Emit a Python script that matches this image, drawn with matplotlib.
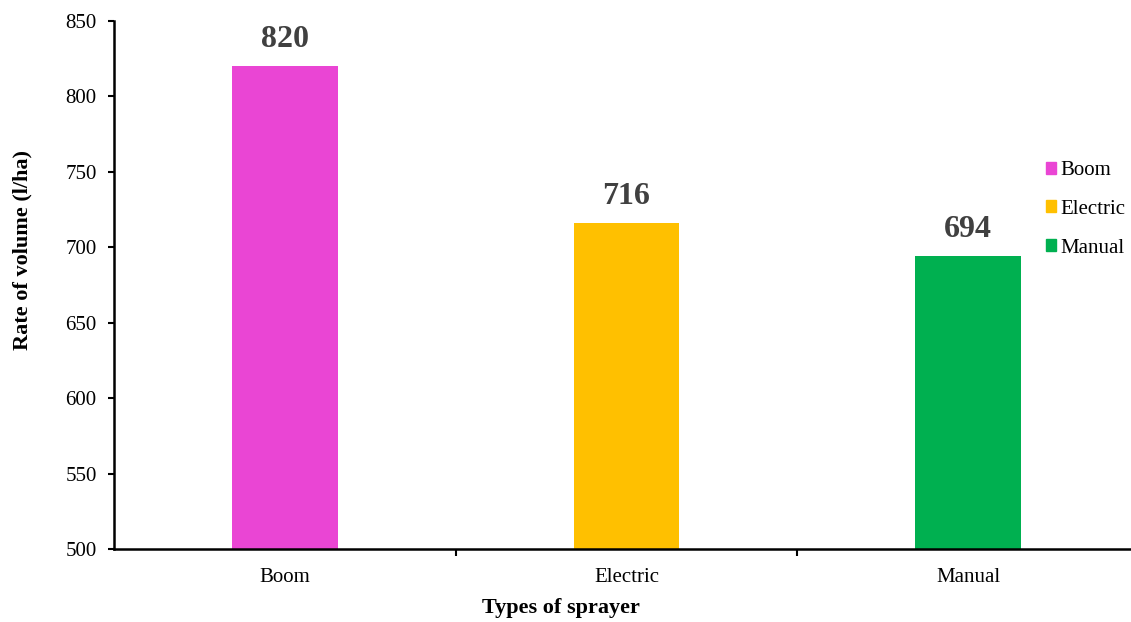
import matplotlib.pyplot as plt
from matplotlib.patches import Patch

sprayers = ["Boom", "Electric", "Manual"]
volume = [820, 716, 694]
bar_colors = ["#EA45D4", "#FFC000", "#00B050"]

plt.rcParams["font.family"] = ["Liberation Serif", "DejaVu Serif"]

W, H = 1131, 622
fig = plt.figure(figsize=(W / 100, H / 100), dpi=100)
ax = fig.add_axes([114 / W, 1 - 549 / H, 1025 / W, 528 / H])

x = range(len(sprayers))
ax.bar(x, volume, width=0.31, color=bar_colors)

for i, v in enumerate(volume):
    ax.text(i, v + 8, str(v), ha="center", va="bottom", fontsize=23,
            fontweight="bold", color="#404040")

ax.set_xlim(-0.5, len(sprayers) - 0.5)
ax.set_ylim(500, 850)
ax.set_yticks(range(500, 851, 50))
ax.tick_params(axis="y", labelsize=15, length=4.5, width=1.5, pad=8, colors="black")
ax.set_xticks(list(x))
ax.set_xticklabels(sprayers, fontsize=15)
ax.tick_params(axis="x", length=0, pad=14)
ax.set_xticks([0.5, 1.5], minor=True)
ax.tick_params(axis="x", which="minor", length=5, width=1.5)

for s in ["top", "right"]:
    ax.spines[s].set_visible(False)
for s in ["left", "bottom"]:
    ax.spines[s].set_linewidth(1.8)

# axis titles placed like the original (not centred on the axes)
fig.text(22 / W, 1 - 250 / H, "Rate of volume (l/ha)", rotation=90, ha="center",
         va="center", fontsize=16, fontweight="bold")
fig.text(561 / W, 1 - 608 / H, "Types of sprayer", ha="center", va="center",
         fontsize=16, fontweight="bold")

handles = [Patch(color=c, label=s) for c, s in zip(bar_colors, sprayers)]
fig.legend(handles=handles, loc="upper left", bbox_to_anchor=(1046 / W, 1 - 161 / H),
           frameon=False, fontsize=15, handlelength=0.5, handleheight=0.5,
           handletextpad=0.2, labelspacing=0.95, borderaxespad=0, borderpad=0)

fig.savefig("out.png", dpi=100)
